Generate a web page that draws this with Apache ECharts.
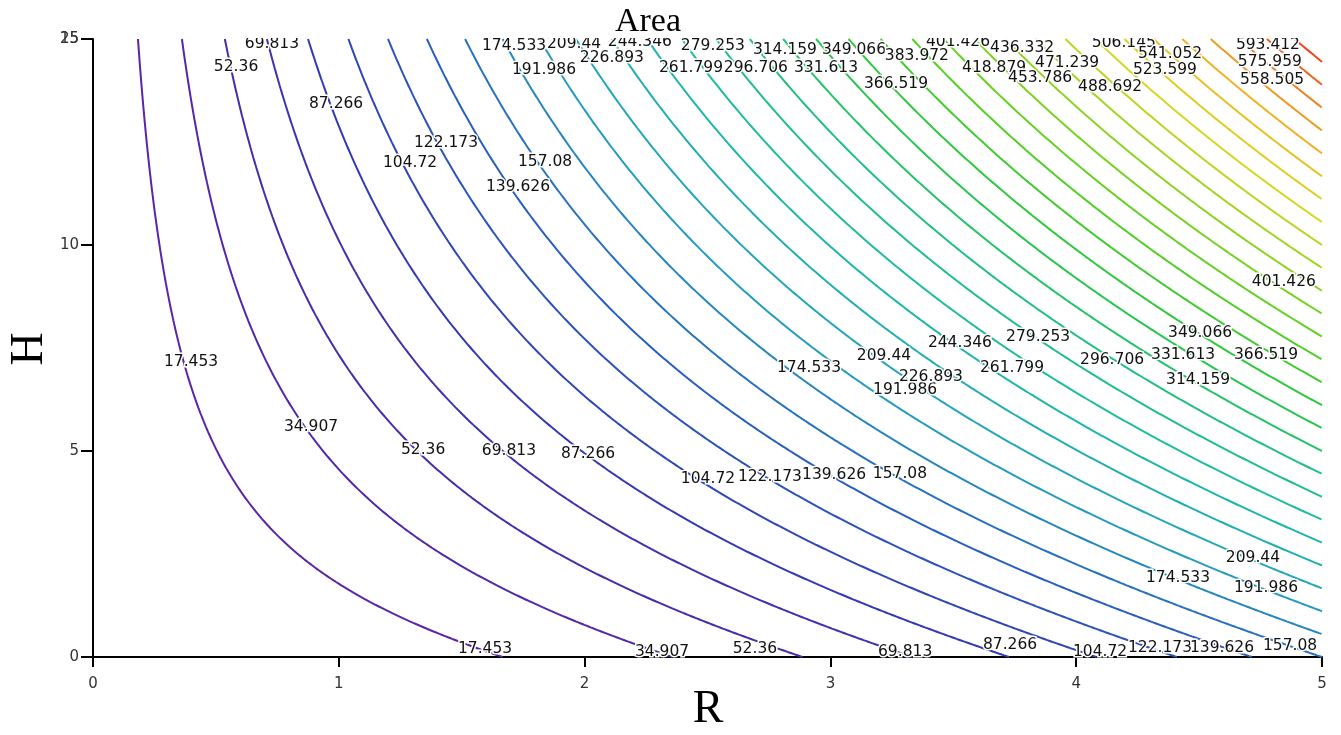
<!DOCTYPE html>
<html><head><meta charset="utf-8">
<script src="https://cdn.jsdelivr.net/npm/echarts@6/dist/echarts.min.js"></script>
<style>html,body{margin:0;padding:0;background:#fff}#c{width:1341px;height:735px}</style>
</head><body><div id="c"></div>
<script>
// Contour levels (labels as printed on the chart)
const levels = [17.453, 34.907, 52.36, 69.813, 87.266, 104.72, 122.173, 139.626, 157.08,
  174.533, 191.986, 209.44, 226.893, 244.346, 261.799, 279.253, 296.706, 314.159,
  331.613, 349.066, 366.519, 383.972, 401.426, 418.879, 436.332, 453.786, 471.239,
  488.692, 506.145, 523.599, 541.052, 558.505, 575.959, 593.412, 610.865];
const xTicks = [0, 1, 2, 3, 4, 5];
const yTicks = [0, 5, 10, 15];
// Label placements: [level, R, H]
const labelTop = [
  [69.813,0.728,14.88],[52.36,0.582,14.32],[87.266,0.989,13.42],[122.173,1.436,12.48],
  [104.72,1.290,11.99],[157.08,1.839,12.01],[139.626,1.729,11.41],[174.533,1.713,14.83],
  [209.44,1.957,14.88],[244.346,2.225,14.93],[191.986,1.835,14.25],[226.893,2.111,14.54],
  [279.253,2.522,14.83],[261.799,2.433,14.30],[314.159,2.815,14.73],[296.706,2.697,14.30],
  [349.066,3.096,14.73],[331.613,2.982,14.30],[383.972,3.352,14.59],[366.519,3.267,13.91],
  [401.426,3.519,14.93],[436.332,3.780,14.78],[418.879,3.666,14.30],[471.239,3.963,14.42],
  [453.786,3.853,14.05],[506.145,4.194,14.90],[488.692,4.138,13.83],[541.052,4.382,14.64],
  [523.599,4.361,14.25],[593.412,4.780,14.85],[575.959,4.788,14.44],[558.505,4.797,14.00]];
const labelMid = [
  [17.453,0.399,7.16],[34.907,0.887,5.58],[52.36,1.343,5.02],[69.813,1.692,5.00],
  [87.266,2.014,4.93],[104.72,2.502,4.32],[122.173,2.754,4.37],[139.626,3.015,4.42],
  [157.08,3.283,4.44],[174.533,2.913,7.01],[209.44,3.218,7.31],[191.986,3.304,6.48],
  [244.346,3.527,7.62],[226.893,3.409,6.80],[279.253,3.845,7.77],[261.799,3.739,7.01],
  [349.066,4.504,7.86],[296.706,4.146,7.21],[331.613,4.435,7.33],[366.519,4.772,7.33],
  [314.159,4.496,6.72],[401.426,4.845,9.10],[209.44,4.719,2.40],[174.533,4.414,1.92],
  [191.986,4.772,1.67]];
const labelBottom = [
  [17.453,1.595,0.19],[34.907,2.315,0.12],[52.36,2.693,0.19],[69.813,3.304,0.12],
  [87.266,3.731,0.29],[104.72,4.097,0.12],[122.173,4.341,0.22],[139.626,4.593,0.22],
  [157.08,4.870,0.27]];

// Surface: total area of a cylinder, A = 2*pi*R*(R+H); contour line A = level
function contourPoints(level) {
  const c = level / (2 * Math.PI);
  const pts = [];
  for (let i = 0; i <= 1500; i++) {
    const H = 15 - i * 0.01;
    const R = (-H + Math.sqrt(H * H + 4 * c)) / 2;
    if (R <= 5) pts.push([R, H]);
    else { pts.push([5, c / 5 - 5]); break; }
  }
  return pts;
}

const stops = [
  [0.00, [92, 36, 166]], [0.06, [72, 42, 172]], [0.12, [50, 58, 180]],
  [0.21, [40, 96, 192]], [0.30, [36, 160, 192]], [0.40, [28, 188, 164]],
  [0.47, [32, 192, 128]], [0.55, [40, 200, 64]], [0.63, [90, 208, 32]],
  [0.72, [150, 212, 32]], [0.80, [216, 216, 32]], [0.88, [240, 180, 32]],
  [0.94, [240, 130, 32]], [1.00, [240, 70, 32]]];
function colorAt(t) {
  for (let i = 1; i < stops.length; i++) {
    if (t <= stops[i][0]) {
      const a = stops[i - 1], b = stops[i];
      const f = (t - a[0]) / (b[0] - a[0]);
      const c = a[1].map((v, j) => Math.round(v + (b[1][j] - v) * f));
      return 'rgb(' + c.join(',') + ')';
    }
  }
  return 'rgb(240,70,32)';
}

const series = levels.map((lv, k) => ({
  type: 'line', data: contourPoints(lv), showSymbol: false, symbol: 'none',
  lineStyle: { width: 2, color: colorAt(k / (levels.length - 1)) },
  clip: true, silent: true, animation: false, z: 2
}));
const allLabels = labelTop.concat(labelMid, labelBottom);
series.push({
  type: 'scatter', symbolSize: 0, silent: true, animation: false, z: 5,
  itemStyle: { opacity: 1 },
  data: allLabels.map(d => ({ value: [d[1], d[2]], name: String(d[0]) })),
  label: { show: true, position: 'inside', formatter: p => p.name,
    fontFamily: 'DejaVu Sans', fontSize: 15.5, color: '#111',
    textBorderColor: '#fff', textBorderWidth: 3 }
});

const chart = echarts.init(document.getElementById('c'), null, { renderer: 'canvas' });
chart.setOption({
  animation: false,
  backgroundColor: '#fff',
  grid: { left: 93, right: 19, top: 39, bottom: 78 },
  xAxis: {
    type: 'value', min: xTicks[0], max: xTicks[xTicks.length - 1], interval: 1,
    axisLine: { lineStyle: { color: '#000', width: 2 } },
    axisTick: { length: 10, lineStyle: { color: '#000', width: 2 } },
    splitLine: { show: false },
    axisLabel: { margin: 20, fontFamily: 'DejaVu Sans', fontSize: 15, color: '#333' }
  },
  yAxis: {
    type: 'value', min: yTicks[0], max: yTicks[yTicks.length - 1], interval: 5,
    axisLine: { lineStyle: { color: '#000', width: 2 } },
    axisTick: { length: 12, lineStyle: { color: '#000', width: 2 } },
    splitLine: { show: false },
    axisLabel: { margin: 14, fontFamily: 'DejaVu Sans', fontSize: 15, color: '#333' }
  },
  graphic: [
    { type: 'rect', z: 100, shape: { x: 95, y: 0, width: 1246, height: 38 }, style: { fill: '#fff' }, silent: true },
    { type: 'text', z: 101, x: 79, y: 39, style: { text: '25', font: '15px "DejaVu Sans"', fill: '#333', textAlign: 'right', textVerticalAlign: 'middle' } },
    { type: 'text', z: 101, x: 648, y: 22, style: { text: 'Area', font: '34px "Liberation Serif"', fill: '#000', textAlign: 'center', textVerticalAlign: 'middle' } },
    { type: 'text', z: 101, x: 708, y: 710, style: { text: 'R', font: '46px "Liberation Serif"', fill: '#000', textAlign: 'center', textVerticalAlign: 'middle' } },
    { type: 'text', z: 101, x: 30, y: 349, rotation: Math.PI / 2, style: { text: 'H', font: '46px "Liberation Serif"', fill: '#000', textAlign: 'center', textVerticalAlign: 'middle' } }
  ],
  series: series
});
</script>
</body></html>
